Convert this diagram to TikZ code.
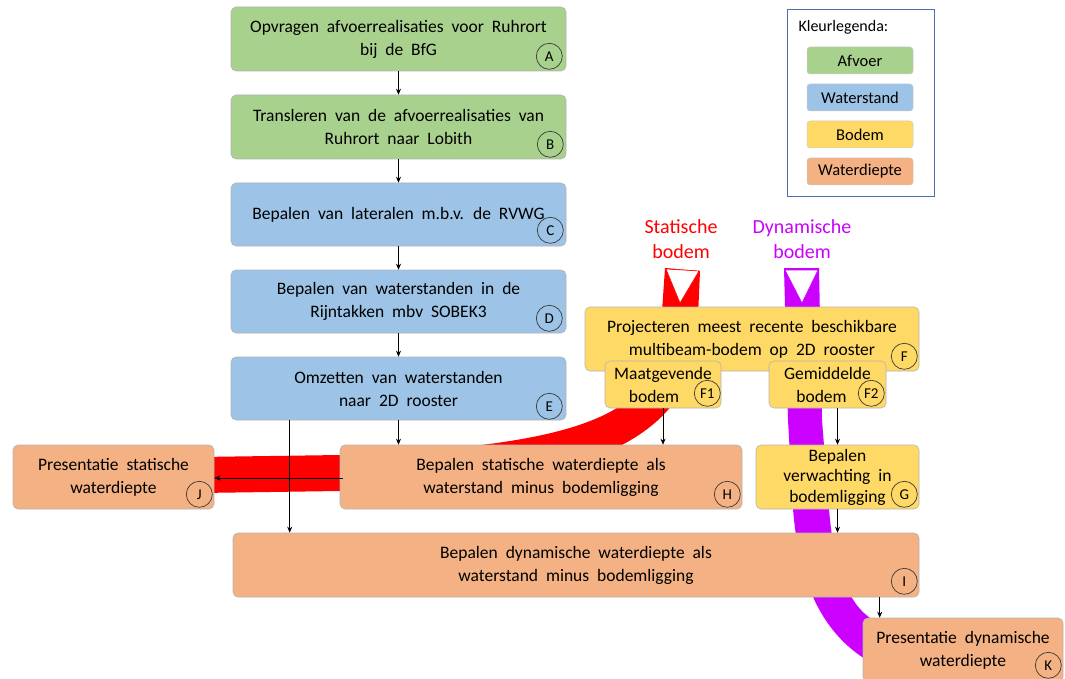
\documentclass[tikz,border=0pt]{standalone}
\usepackage{fontspec}
\setmainfont{Carlito}[WordSpace=2]
\usetikzlibrary{arrows.meta,calc}
\definecolor{cgreen}{HTML}{A9D18E}
\definecolor{cblue}{HTML}{9DC3E6}
\definecolor{cyellow}{HTML}{FFD966}
\definecolor{corange}{HTML}{F4B183}
\definecolor{cred}{HTML}{FF0000}
\definecolor{cmag}{HTML}{CC00FF}
\definecolor{boxline}{HTML}{B4B4B4}
\definecolor{lblline}{HTML}{3A3A3A}
\definecolor{legline}{HTML}{4A6FB5}
\begin{document}
\begin{tikzpicture}[x=1pt,y=-1pt,
 box/.style={draw=boxline, line width=0.6pt, rounded corners=5pt, align=center, inner sep=0pt, font=\fontsize{17.5}{23}\selectfont, text=black},
 legitem/.style={draw=boxline!70, line width=0.5pt, rounded corners=3pt, minimum width=106pt, minimum height=27pt, inner sep=0pt, font=\fontsize{16.5}{18}\selectfont},
 lbl/.style={circle, draw=lblline, line width=0.7pt, minimum size=26pt, inner sep=0pt, font=\fontsize{15}{15}\selectfont},
 arr/.style={-{Stealth[length=6pt,width=5pt]}, line width=0.6pt}
]
\useasboundingbox (0,0) rectangle (1065,679);

% ---- bands (behind everything)
\fill[cred] (665,268) -- (660,340) .. controls (655,420) and (560,447) .. (340,455) -- (200,457)
  -- (200,493) -- (340,491) .. controls (620,491) and (690,420) .. (697,340) -- (700,271) -- cycle;
\filldraw[fill=white, draw=cred, line width=0.6pt] (666,269) -- (699,271) -- (680,303) -- cycle;

\fill[cmag] (784,268) -- (788,420) -- (793,509) .. controls (798,570) and (815,630) .. (870,662)
  -- (870,618) .. controls (845,600) and (833,560) .. (829,509) -- (822,420) -- (819,268) -- cycle;
\filldraw[fill=white, draw=cmag, line width=0.6pt] (785,270) -- (818,270) -- (802,303) -- cycle;

% ---- boxes
\node[box, fill=cgreen, minimum width=335pt, minimum height=64pt] (A) at (398.5,39) {Opvragen afvoerrealisaties voor Ruhrort\\bij de BfG};
\node[box, fill=cgreen, minimum width=335pt, minimum height=64pt] (B) at (398.5,127) {Transleren van de afvoerrealisaties van\\Ruhrort naar Lobith};
\node[box, fill=cblue, minimum width=335pt, minimum height=63pt] (C) at (398.5,214.5) {Bepalen van lateralen m.b.v. de RVWG};
\node[box, fill=cblue, minimum width=335pt, minimum height=63pt] (D) at (398.5,301.5) {Bepalen van waterstanden in de\\Rijntakken mbv SOBEK3};
\node[box, fill=cblue, minimum width=335pt, minimum height=63pt] (E) at (398.5,388.5) {Omzetten van waterstanden\\naar 2D rooster};
\node[box, fill=cyellow, minimum width=334pt, minimum height=64pt] (F) at (752,339) {Projecteren meest recente beschikbare\\multibeam-bodem op 2D rooster};
\node[box, fill=cyellow, minimum width=116pt, minimum height=47pt] (F1) at (663,384.5) {Maatgevende\\bodem\hspace*{18pt}};
\node[box, fill=cyellow, minimum width=117pt, minimum height=47pt] (F2) at (827.5,384.5) {Gemiddelde\\bodem\hspace*{12pt}};
\node[box, fill=cyellow, minimum width=163pt, minimum height=64pt, font=\fontsize{17.5}{20.5}\selectfont] (G) at (837.5,477) {Bepalen\\verwachting in\\bodemligging};
\node[box, fill=corange, minimum width=402pt, minimum height=64pt] (H) at (541,477) {Bepalen statische waterdiepte als\\waterstand minus bodemligging};
\node[box, fill=corange, minimum width=686pt, minimum height=64pt] (I) at (576,565) {Bepalen dynamische waterdiepte als\\waterstand minus bodemligging};
\node[box, fill=corange, minimum width=201pt, minimum height=64pt] (J) at (113.5,477) {Presentatie statische\\waterdiepte};
\node[box, fill=corange, minimum width=200pt, minimum height=64pt] (K) at (963,650) {Presentatie dynamische\\waterdiepte};

% ---- circle labels
\node[lbl] (lA) at ($(A.south east)+(-17,-15)$) {A};
\node[lbl] (lB) at ($(B.south east)+(-16,-15)$) {B};
\node[lbl] (lC) at ($(C.south east)+(-16,-16)$) {C};
\node[lbl] (lD) at ($(D.south east)+(-17,-15)$) {D};
\node[lbl] (lE) at ($(E.south east)+(-17,-14)$) {E};
\node[lbl] (lF) at ($(F.south east)+(-15,-15)$) {F};
\node[lbl] (lF1) at ($(F1.south east)+(-14,-15)$) {F1};
\node[lbl] (lF2) at ($(F2.south east)+(-15,-15)$) {F2};
\node[lbl] (lG) at ($(G.south east)+(-15,-15)$) {G};
\node[lbl] (lH) at ($(H.south east)+(-15,-15)$) {H};
\node[lbl] (lI) at ($(I.south east)+(-15,-16)$) {I};
\node[lbl] (lJ) at ($(J.south east)+(-15,-15)$) {J};
\node[lbl] (lK) at ($(K.south east)+(-15,-17)$) {K};

% ---- band titles
\node[text=cred, align=center, font=\fontsize{20}{25}\selectfont] (st) at (681,239.5) {Statische\\bodem};
\node[text=cmag, align=center, font=\fontsize{20}{25}\selectfont] (dy) at (802,239.5) {Dynamische\\bodem};

% ---- arrows
\draw[arr] (A.south) -- (B.north);
\draw[arr] (B.south) -- (C.north);
\draw[arr] (C.south) -- (D.north);
\draw[arr] (D.south) -- (E.north);
\draw[arr] (E.south) -- (E.south |- H.north);
\coordinate (e1) at ($(E.south west)+(59,0)$);
\draw[arr] (e1) -- (e1 |- I.north);
\draw[arr] (F1.south) -- (F1.south |- H.north);
\draw[arr] (G.north |- F2.south) -- (G.north);
\draw[arr] (G.south) -- (G.south |- I.north);
\coordinate (k1) at ($(K.north west)+(17,0)$);
\draw[arr] (k1 |- I.south) -- (k1);
\coordinate (h1) at ($(H.west)+(3,1)$);
\draw[arr] (h1) -- (h1 -| J.east);

% ---- legend
\node[draw=legline, line width=0.7pt, minimum width=147pt, minimum height=187pt, inner sep=0pt] (L) at (860.5,102.5) {};
\node[anchor=west, font=\fontsize{16}{18}\selectfont] (Lt) at (795,27) {Kleurlegenda:};
\node[legitem, fill=cgreen] (L1) at (860,60.5) {Afvoer};
\node[legitem, fill=cblue] (L2) at (860,97.5) {Waterstand};
\node[legitem, fill=cyellow] (L3) at (860,134.5) {Bodem};
\node[legitem, fill=corange] (L4) at (860,171.5) {Waterdiepte};
\end{tikzpicture}
\end{document}
